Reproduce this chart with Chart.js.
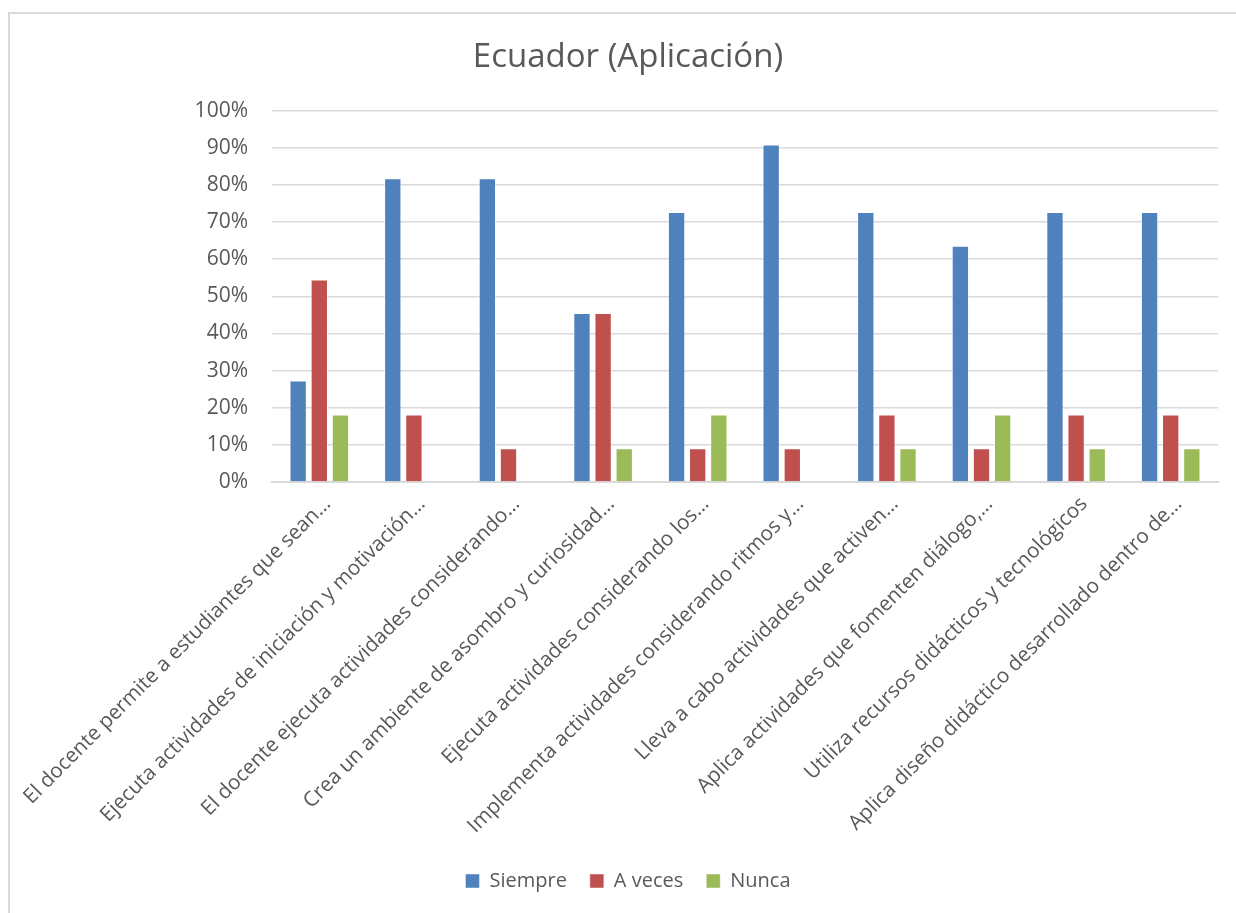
<!DOCTYPE html>
<html>
<head>
<meta charset="utf-8">
<script src="https://cdn.jsdelivr.net/npm/chart.js@4"></script>
<style>
  html, body { margin: 0; padding: 0; background: #fff; }
  #wrap { position: relative; width: 1236px; height: 913px; }
  #marco { position: absolute; left: 8px; top: 12px; right: 0; bottom: 0;
           border-left: 2px solid #d9d9d9; border-top: 2px solid #d9d9d9; pointer-events: none; }
</style>
</head>
<body>
<div id="wrap">
  <canvas id="grafico" width="1236" height="913"></canvas>
  <div id="marco"></div>
</div>
<script>
// Categorias (rótulos já truncados como no gráfico original)
const categorias = [
  'El docente permite a estudiantes que sean…',
  'Ejecuta actividades de iniciación y motivación…',
  'El docente ejecuta actividades considerando…',
  'Crea un ambiente de asombro y curiosidad…',
  'Ejecuta actividades considerando los…',
  'Implementa actividades considerando ritmos y…',
  'Lleva a cabo actividades que activen…',
  'Aplica actividades que fomenten diálogo,…',
  'Utiliza recursos didácticos y tecnológicos',
  'Aplica diseño didáctico desarrollado dentro de…'
];

// Valores em porcentagem
const siempre = [27.3, 81.8, 81.8, 45.5, 72.7, 90.9, 72.7, 63.6, 72.7, 72.7];
const aVeces  = [54.5, 18.2, 9.1, 45.5, 9.1, 9.1, 18.2, 9.1, 18.2, 18.2];
const nunca   = [18.2, 0, 0, 9.1, 18.2, 0, 9.1, 18.2, 9.1, 9.1];

const ticksY = [0, 10, 20, 30, 40, 50, 60, 70, 80, 90, 100];

const cinza = '#595959';
const fonte = "'Open Sans', 'DejaVu Sans', sans-serif";

// Borda só quando a barra tem valor (barras zero não aparecem)
const borda = ctx => (ctx.raw ? 1 : 0);

new Chart(document.getElementById('grafico'), {
  type: 'bar',
  data: {
    labels: categorias,
    datasets: [
      { label: 'Siempre', data: siempre, backgroundColor: '#4f81bd', borderColor: 'rgba(255,255,255,0.45)', borderWidth: borda },
      { label: 'A veces', data: aVeces, backgroundColor: '#c0504d', borderColor: 'rgba(255,255,255,0.45)', borderWidth: borda },
      { label: 'Nunca', data: nunca, backgroundColor: '#9bbb59', borderColor: 'rgba(255,255,255,0.45)', borderWidth: borda }
    ]
  },
  options: {
    responsive: false,
    animation: false,
    categoryPercentage: 0.67,
    barPercentage: 0.82,
    layout: { padding: { left: 38, right: 18, top: 0, bottom: 12 } },
    plugins: {
      title: {
        display: true,
        text: 'Ecuador (Aplicación)',
        color: cinza,
        font: { family: fonte, size: 33, weight: 'normal' },
        padding: { top: 38, bottom: 33 }
      },
      legend: {
        position: 'bottom',
        labels: {
          color: cinza,
          font: { family: fonte, size: 20 },
          boxWidth: 14,
          boxHeight: 14,
          padding: 23
        }
      },
      tooltip: { enabled: false }
    },
    scales: {
      x: {
        grid: { display: false },
        border: { color: '#d9d9d9', width: 2 },
        ticks: {
          color: cinza,
          font: { family: fonte, size: 20.6 },
          maxRotation: 45,
          minRotation: 45,
          autoSkip: false,
          labelOffset: 8,
          padding: 2
        },
        // altura fixa do eixo e sem empurrar a área do gráfico pelos rótulos inclinados
        afterFit: scale => {
          scale.height = 366;
          scale.paddingLeft = 0;
          scale.paddingRight = 0;
        }
      },
      y: {
        min: 0,
        max: 100,
        border: { display: false },
        grid: { color: '#d9d9d9', lineWidth: 1.5, drawTicks: false },
        afterBuildTicks: scale => { scale.ticks = ticksY.map(v => ({ value: v })); },
        ticks: {
          color: cinza,
          font: { family: fonte, size: 21 },
          padding: 24,
          callback: v => v + '%'
        },
        afterFit: scale => { scale.width = 234; }
      }
    }
  }
});
</script>
</body>
</html>
